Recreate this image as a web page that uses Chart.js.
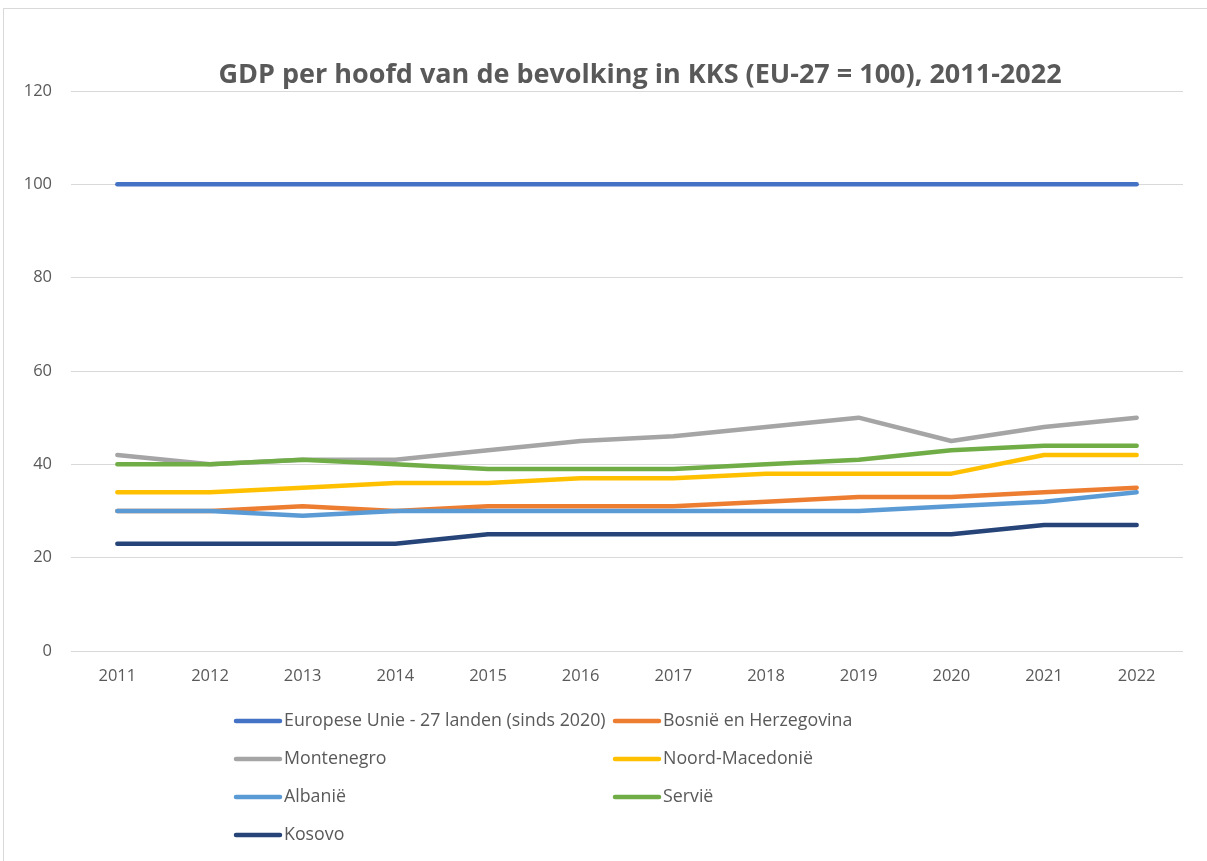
<!DOCTYPE html>
<html>
<head>
<meta charset="utf-8">
<script src="https://cdn.jsdelivr.net/npm/chart.js@4/dist/chart.umd.min.js"></script>
<style>
  html, body { margin: 0; padding: 0; background: #fff; }
  #wrap { position: relative; width: 1207px; height: 861px; }
</style>
</head>
<body>
<div id="wrap"><canvas id="gdpChart" width="1207" height="861"></canvas></div>
<script>
/* ---- Data ---- */
const chartTitle = 'GDP per hoofd van de bevolking in KKS (EU-27 = 100), 2011-2022';

const years = ['2011','2012','2013','2014','2015','2016','2017','2018','2019','2020','2021','2022'];

const seriesNames = [
  'Europese Unie - 27 landen (sinds 2020)',
  'Bosnië en Herzegovina',
  'Montenegro',
  'Noord-Macedonië',
  'Albanië',
  'Servië',
  'Kosovo'
];

const euValues         = [100,100,100,100,100,100,100,100,100,100,100,100];
const bosniaValues     = [30,30,31,30,31,31,31,32,33,33,34,35];
const montenegroValues = [42,40,41,41,43,45,46,48,50,45,48,50];
const macedoniaValues  = [34,34,35,36,36,37,37,38,38,38,42,42];
const albaniaValues    = [30,30,29,30,30,30,30,30,30,31,32,34];
const serbiaValues     = [40,40,41,40,39,39,39,40,41,43,44,44];
const kosovoValues     = [23,23,23,23,25,25,25,25,25,25,27,27];

const yTicks = [0,20,40,60,80,100,120];

const seriesColors = ['#4472C4','#ED7D31','#A5A5A5','#FFC000','#5B9BD5','#70AD47','#264478'];

/* ---- Helpers ---- */
const FONT = "'Open Sans', 'Noto Sans', sans-serif";
const TEXT = '#595959';

const allValues = [euValues, bosniaValues, montenegroValues, macedoniaValues, albaniaValues, serbiaValues, kosovoValues];

const datasets = allValues.map((vals, i) => ({
  label: seriesNames[i],
  data: vals,
  borderColor: seriesColors[i],
  backgroundColor: seriesColors[i],
  borderWidth: 4.5,
  borderCapStyle: 'round',
  borderJoinStyle: 'round',
  pointRadius: 0,
  pointHoverRadius: 0,
  tension: 0,
  fill: false,
  order: allValues.length - i   // later series on top, like Excel
}));

/* frame + title (title sits off-centre in the Excel original) */
const framePlugin = {
  id: 'frame',
  beforeDraw(chart) {
    const c = chart.ctx;
    c.save();
    c.fillStyle = '#fff';
    c.fillRect(0, 0, chart.width, chart.height);
    c.strokeStyle = '#d9d9d9';
    c.lineWidth = 1;
    c.strokeRect(3.5, 8.5, chart.width, chart.height);
    c.fillStyle = TEXT;
    c.font = `bold 27px ${FONT}`;
    c.textAlign = 'center';
    c.textBaseline = 'middle';
    c.fillText(chartTitle, 640, 75);
    c.restore();
  }
};

/* two-column legend below the plot, like the Excel original */
const gridLegend = {
  id: 'gridLegend',
  afterDraw(chart) {
    const c = chart.ctx;
    const colX = [233, 612];
    const rowY0 = 721, rowH = 38;
    c.save();
    c.font = `17.8px ${FONT}`;
    c.textBaseline = 'middle';
    c.textAlign = 'left';
    chart.data.datasets.forEach((ds, i) => {
      const x = colX[i % 2];
      const y = rowY0 + Math.floor(i / 2) * rowH;
      c.strokeStyle = ds.borderColor;
      c.lineWidth = 4.5;
      c.lineCap = 'round';
      c.beginPath();
      c.moveTo(x + 3, y);
      c.lineTo(x + 47, y);
      c.stroke();
      c.fillStyle = TEXT;
      c.fillText(ds.label, x + 51, y);
    });
    c.restore();
  }
};

/* ---- Chart ---- */
const ctx = document.getElementById('gdpChart').getContext('2d');
new Chart(ctx, {
  type: 'line',
  data: { labels: years, datasets },
  plugins: [framePlugin, gridLegend],
  options: {
    responsive: false,
    animation: false,
    layout: { padding: { left: 0, right: 24, top: 91, bottom: 0 } },
    plugins: {
      legend: { display: false },
      tooltip: { enabled: false },
      title: { display: false }
    },
    scales: {
      x: {
        offset: true,
        grid: { display: false, drawTicks: false },
        border: { display: false },
        ticks: { color: TEXT, font: { family: FONT, size: 16.5 }, padding: 15, maxRotation: 0 },
        afterFit: (s) => { s.height = 210; }
      },
      y: {
        min: 0,
        max: 120,
        afterBuildTicks: (s) => { s.ticks = yTicks.map(v => ({ value: v })); },
        grid: { color: '#d9d9d9', lineWidth: 1, drawTicks: false },
        border: { display: false },
        ticks: { color: TEXT, font: { family: FONT, size: 16.5 }, padding: 19 },
        afterFit: (s) => { s.width = 71; }
      }
    }
  }
});
</script>
</body>
</html>
